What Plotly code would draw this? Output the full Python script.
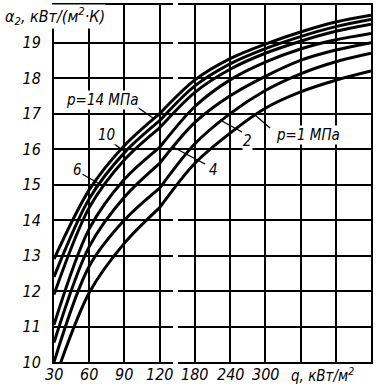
import plotly.graph_objects as go

# ---- data (q in kW/m2, alpha2 in kW/(m2*K)), curves from bottom to top ----
q_values = [30, 60, 90, 120, 180, 240, 300, 360, 420, 480]
alpha_p1 = [9.45, 11.95, 13.35, 14.35, 15.6, 16.45, 17.15, 17.61, 17.94, 18.2]
alpha_p2 = [10.0, 12.7, 14.0, 14.9, 16.15, 17.0, 17.65, 18.12, 18.46, 18.7]
alpha_p4 = [10.55, 13.25, 14.65, 15.6, 16.75, 17.5, 18.05, 18.5, 18.79, 19.0]
alpha_p5 = [11.05, 13.75, 15.15, 16.05, 17.2, 17.95, 18.45, 18.82, 19.08, 19.26]
alpha_p6 = [11.9, 14.35, 15.7, 16.6, 17.6, 18.25, 18.7, 19.04, 19.32, 19.52]
alpha_p10 = [12.4, 14.6, 15.9, 16.8, 17.78, 18.4, 18.83, 19.17, 19.45, 19.65]
alpha_p14 = [12.9, 14.85, 16.1, 17.0, 17.95, 18.55, 18.96, 19.3, 19.58, 19.77]

x_ticks = [30, 60, 90, 120, 180, 240, 300, 360, 420, 480]
x_tick_labels = ["30", "60", "90", "120", "180", "240", "300", "", "", ""]
y_ticks = [10, 11, 12, 13, 14, 15, 16, 17, 18, 19]
Q_BREAK = 120


def qpos(q):
    # non-uniform scale of the original: step 30 up to 120, then step 60
    return q / 30.0 - 1.0 if q <= Q_BREAK else 3.0 + (q - Q_BREAK) / 60.0


series = [alpha_p1, alpha_p2, alpha_p4, alpha_p5, alpha_p6, alpha_p10, alpha_p14]

fig = go.Figure()
ib = q_values.index(Q_BREAK)
for s in series:
    for qs, ys in ((q_values[:ib + 1], s[:ib + 1]), (q_values[ib:], s[ib:])):
        fig.add_trace(go.Scatter(x=[qpos(q) for q in qs], y=ys, mode="lines",
                                 line=dict(color="black", width=3, shape="spline", smoothing=0.9),
                                 showlegend=False, hoverinfo="skip"))

L, R, T, B, W, H = 54, 371, 5, 362, 380, 390


def px(x):
    return (x - L) / (R - L)


def py(y):
    return (B - y) / (B - T)


FAM = "Liberation Sans Narrow, DejaVu Sans Condensed, Liberation Sans, sans-serif"
font = dict(family=FAM, size=16, color="black", style="italic")
font15 = dict(family=FAM, size=15, color="black", style="italic")

fig.update_layout(
    width=W, height=H,
    margin=dict(l=L, r=W - R, t=T, b=H - B, autoexpand=False),
    paper_bgcolor="white", plot_bgcolor="white",
    xaxis=dict(range=[0, qpos(480)], tickvals=[qpos(v) for v in x_ticks],
               showticklabels=False,
               showgrid=True, gridcolor="black", gridwidth=1.5,
               showline=True, linecolor="black", linewidth=2, mirror=True,
               ticks="", zeroline=False, automargin=False),
    yaxis=dict(range=[10, 20.06], tickvals=y_ticks,
               showgrid=True, gridcolor="black", gridwidth=1.5,
               showline=True, linecolor="black", linewidth=2, mirror=True,
               ticks="", tickfont=font, zeroline=False, automargin=False,
               ticklabelstandoff=8),
)

# x tick labels placed at their axis positions
for v, lab in zip(x_ticks, x_tick_labels):
    if lab:
        fig.add_annotation(x=qpos(v), xref="x", y=py(374), yref="paper", text=lab,
                           showarrow=False, font=font, xanchor="center", yanchor="middle")

# small breaks of the grid between 120 and 180 (as in the printed original)
for gy in (B, 327.5, 292, 257, 221.5, 78, 42, T):
    fig.add_shape(type="rect", xref="paper", yref="paper", layer="above",
                  x0=px(173), x1=px(178), y0=py(gy + 2.5), y1=py(gy - 2.5),
                  line=dict(width=0), fillcolor="white")

labels = [
    ("p=14 МПа", 102, 100, (137, 107), (153, 118)),
    ("10", 106, 135, (113, 143), (125, 152)),
    ("6", 77, 170, (82, 174), (98, 183)),
    ("4", 213, 170, (173, 147), (205, 164)),
    ("2", 247, 141, (220, 120), (242, 132)),
    ("p=1 МПа", 308, 135, (255, 115), (270, 128)),
]
for text, tx, ty, p0, p1 in labels:
    fig.add_annotation(x=px(tx), y=py(ty), xref="paper", yref="paper", text=text,
                       showarrow=False, font=font15, xanchor="center", yanchor="middle",
                       bgcolor="white", borderpad=0)
    fig.add_shape(type="line", xref="paper", yref="paper",
                  x0=px(p0[0]), y0=py(p0[1]), x1=px(p1[0]), y1=py(p1[1]),
                  line=dict(color="black", width=1.3))

fig.add_annotation(x=px(4), y=py(16), xref="paper", yref="paper",
                   text="α<sub>2</sub>, кВт/(м<sup>2</sup>·К)", showarrow=False,
                   font=font, xanchor="left", yanchor="middle", bgcolor="white", borderpad=0)
fig.add_annotation(x=px(289), y=py(375), xref="paper", yref="paper",
                   text="q, кВт/м<sup>2</sup>", showarrow=False,
                   font=font15, xanchor="left", yanchor="middle")

fig.write_html("out.html", config={"displayModeBar": False},
               post_script="document.body.style.margin='0';")
